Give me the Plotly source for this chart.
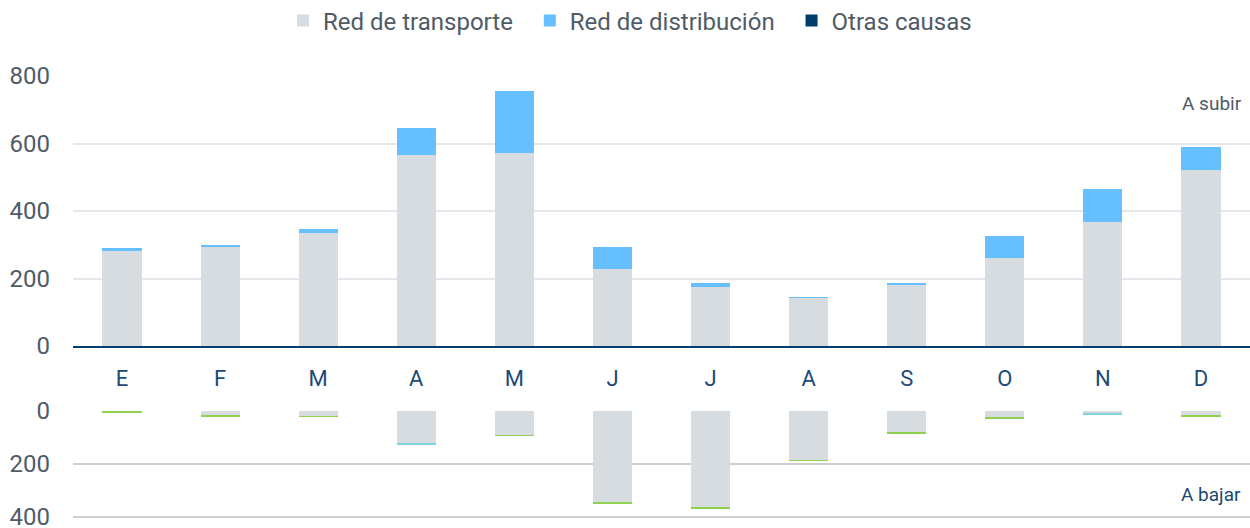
import plotly.graph_objects as go

months = ["E", "F", "M", "A", "M", "J", "J", "A", "S", "O", "N", "D"]
xcat = list(range(12))

# A subir (upper panel)
up_transporte = [284, 294, 335, 566, 572, 228, 175, 143, 181, 261, 367, 521]
up_distribucion = [5, 5, 12, 80, 184, 65, 12, 2, 4, 65, 98, 69]
up_otras = [0, 0, 0, 0, 0, 0, 0, 0, 0, 0, 0, 0]

# A bajar (lower panel)
dn_transporte = [3, 18, 19, 124, 92, 347, 366, 186, 79, 24, 9, 16]
dn_distribucion = [0, 0, 0, 3, 0, 0, 0, 0, 0, 0, 4, 0]
dn_otras = [3, 1, 3, 0, 2, 4, 4, 2, 9, 7, 0, 3]

series_names = ["Red de transporte", "Red de distribución", "Otras causas"]

C_GRAY = "#d7dce0"
C_BLUE = "#66bfff"
C_NAVY = "#003d6b"
C_TEAL = "#7fd3df"
C_GREEN = "#8fd14f"
TXT = "#4f5b66"
MONTH_C = "#1b4a78"
FONT = "Roboto"
PAD = "\u00a0\u00a0"

fig = go.Figure()
fig.add_bar(x=xcat, y=up_transporte, name=series_names[0] + PAD, marker_color=C_GRAY,
            xaxis="x", yaxis="y")
fig.add_bar(x=xcat, y=up_distribucion, name=series_names[1] + PAD, marker_color=C_BLUE,
            xaxis="x", yaxis="y")
fig.add_bar(x=xcat, y=up_otras, name=series_names[2], marker_color=C_NAVY,
            xaxis="x", yaxis="y")
fig.add_bar(x=xcat, y=dn_transporte, name=series_names[0], marker_color=C_GRAY,
            xaxis="x2", yaxis="y2", showlegend=False)
fig.add_bar(x=xcat, y=dn_distribucion, name=series_names[1], marker_color=C_TEAL,
            xaxis="x2", yaxis="y2", showlegend=False)
fig.add_bar(x=xcat, y=dn_otras, name="Otras", marker_color=C_GREEN,
            xaxis="x2", yaxis="y2", showlegend=False)

H = 528.0
def py(px):
    return 1 - px / H

LOW_MAX = 404
LOW_BOTTOM_PX = 411 + LOW_MAX * (106 / 400)

fig.update_traces(marker_line_width=0)

fig.update_layout(
    width=1250, height=528,
    margin=dict(l=73, r=0, t=0, b=0, autoexpand=False),
    paper_bgcolor="white", plot_bgcolor="white",
    barmode="stack", bargap=0.6,
    font=dict(family=FONT, size=24, color=TXT),
    legend=dict(orientation="h", x=(630 - 73) / 1177, xanchor="center",
                y=py(21), yanchor="middle", font=dict(size=24, color=TXT),
                itemwidth=30, traceorder="normal"),
    xaxis=dict(domain=[0, 1], range=[-0.5, 11.5], tickmode="array", tickvals=xcat,
               ticktext=months, showgrid=False, zeroline=False, showline=True,
               linecolor=C_NAVY, linewidth=2, ticks="", ticklabelstandoff=12,
               tickfont=dict(size=22, color=MONTH_C), anchor="y"),
    yaxis=dict(domain=[py(346), py(76)], range=[0, 800], tickvals=[0, 200, 400, 600, 800],
               showgrid=True, gridcolor="#e6e6ec", gridwidth=1.5, zeroline=False,
               ticklabelstandoff=22, tickfont=dict(size=24, color=TXT)),
    xaxis2=dict(domain=[0, 1], range=[-0.5, 11.5], showticklabels=False, showgrid=False,
                zeroline=False, showline=False, anchor="y2"),
    yaxis2=dict(domain=[py(LOW_BOTTOM_PX), py(411)], range=[LOW_MAX, 0], tickvals=[0, 200, 400],
                showgrid=True, gridcolor="#cfcfcf", gridwidth=1.5, zeroline=False,
                ticklabelstandoff=22, ticklabeloverflow="allow",
                tickfont=dict(size=24, color=TXT)),
    annotations=[
        dict(text="A subir", xref="paper", yref="paper", x=1, y=py(103),
             xanchor="right", yanchor="middle", showarrow=False, xshift=-6,
             font=dict(size=19, color=TXT)),
        dict(text="A bajar", xref="paper", yref="paper", x=1, y=py(494),
             xanchor="right", yanchor="middle", showarrow=False, xshift=-7,
             font=dict(size=19, color="#1b4a6e")),
    ],
)

fig.write_html("out.html", config={"displayModeBar": False},
               post_script="document.body.style.margin='0';")
